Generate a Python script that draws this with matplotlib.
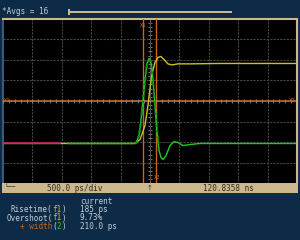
import matplotlib
matplotlib.use("Agg")
import matplotlib.pyplot as plt
import numpy as np
from matplotlib.patches import Rectangle

# time in ps relative to screen centre, amplitude in divisions
step_t = [-2500, -260, -170, -85, -35, 0, 35, 85, 135, 185, 240, 305, 375,
          475, 680, 1200, 2500]
step_v = [-2.06, -2.06, -1.87, -1.19, -0.22, 0.61, 1.33, 1.87, 2.11, 2.16,
          2.01, 1.80, 1.75, 1.80, 1.80, 1.82, 1.82]

pulse_t = [-1394, -240, -187, -153, -119, -85, -51, -17, 17, 51, 85, 119,
           153, 187, 221, 272, 340, 408, 476, 561, 680, 850, 2500]
pulse_v = [-2.06, -2.06, -1.67, -0.95, 0.02, 1.0, 1.82, 2.06, 1.87, 1.0,
           -0.22, -1.43, -2.40, -2.74, -2.84, -2.65, -2.16, -1.97, -2.01,
           -2.16, -2.11, -2.06, -2.06]

ref_t = [-2500, -1530]
ref_v = [-2.06, -2.06]

x1_cursor = -114
x2_cursor = 97
y_cursor = 0.0

timebase = "500.0 ps/div"
delay = "120.8358 ns"
avgs = "*Avgs = 16"
# each measurement name split into (text, colour key) pieces
meas_names = [
    [("Risetime(", "txt"), ("f1", "yellow"), (")", "txt")],
    [("Overshoot(", "txt"), ("f1", "yellow"), (")", "txt")],
    [("+ width", "orange"), ("(", "txt"), ("2", "green"), (")", "txt")],
]
meas_values = ["185 ps", "9.73%", "210.0 ps"]

BG = "#0d2b47"
TAN = "#cdb88e"
ORANGE = "#c8661e"
GREEN = "#22c822"
YELLOW = "#c9c227"
TXT = "#c6ced6"
COLORS = {"txt": TXT, "yellow": YELLOW, "orange": ORANGE, "green": GREEN}
W, H = 300, 240

fig = plt.figure(figsize=(3, 2.4), dpi=100, facecolor=BG)


def fx(px):
    return px / W


def fy(py):
    return 1 - py / H


# plot area, pixel box x 3..297, y 18.5..183.5
ax = fig.add_axes([fx(3), fy(183.5), fx(294), 165 / H])
ax.set_facecolor("black")
ax.set_xlim(-2500, 2500)
ax.set_ylim(-4, 4)
ax.set_xticks(np.arange(-2000, 2001, 500))
ax.set_yticks(np.arange(-3, 4, 1))
ax.tick_params(length=0, labelbottom=False, labelleft=False)
ax.grid(True, color="#454545", lw=0.8, ls=(0, (2, 1)))
for side in ["top", "right"]:
    ax.spines[side].set_color(TAN)
    ax.spines[side].set_linewidth(1.5)
ax.spines["left"].set_color("#46698a")
ax.spines["left"].set_linewidth(1.2)
ax.spines["bottom"].set_visible(False)

# centre axes with minor ticks
ax.axvline(0, color="#5a5a5a", lw=0.8, zorder=1)
mt = np.arange(-2500, 2501, 100)
my = np.arange(-4, 4.01, 0.2)
ax.plot(mt, np.zeros_like(mt), ls="none", marker="|", ms=2.5, color="#8a8a8a",
        mew=0.6, zorder=4)
ax.plot(np.zeros_like(my), my, ls="none", marker="_", ms=2.5, color="#8a8a8a",
        mew=0.6, zorder=1)

# cursors
ax.axhline(y_cursor, color=ORANGE, lw=1.2, zorder=3)
ax.axvline(x1_cursor, color=ORANGE, lw=1.0, zorder=3)
ax.axvline(x2_cursor, color=ORANGE, lw=1.0, zorder=3)
ax.text(x1_cursor, 3.8, "X1", color=ORANGE, fontsize=4, ha="center",
        va="top", family="DejaVu Sans Mono", zorder=6)
ax.text(x2_cursor + 20, -3.85, "X2", color=ORANGE, fontsize=4, ha="center",
        va="bottom", family="DejaVu Sans Mono", zorder=6)
ax.text(-2480, 0, "Y1", color=ORANGE, fontsize=4, ha="left", va="center",
        family="DejaVu Sans Mono", zorder=6)
ax.text(2480, 0, "Y2", color=ORANGE, fontsize=4, ha="right", va="center",
        family="DejaVu Sans Mono", zorder=6)

# traces
ax.plot(step_t, step_v, color=YELLOW, lw=1.0, zorder=4)
ax.plot(pulse_t, pulse_v, color=GREEN, lw=1.0, zorder=5)
ax.plot(pulse_t[1:13], pulse_v[1:13], color="#0f8f0f", lw=1.6, ls=":",
        zorder=5)
ax.plot(ref_t, ref_v, color="#c01a6c", lw=1.2, zorder=6)

# top bar
fig.text(fx(2), fy(12), avgs, color=TXT, fontsize=5.6,
         family="DejaVu Sans Mono", va="center", ha="left")
fig.add_artist(Rectangle((fx(68), fy(13.2)), fx(164), 2.4 / H,
                         facecolor=TAN, edgecolor="none"))
fig.add_artist(Rectangle((fx(67.5), fy(15)), fx(2), 6 / H,
                         facecolor=TAN, edgecolor="none"))

# bottom status bar
fig.add_artist(Rectangle((fx(2), fy(193)), fx(296), 10 / H,
                         facecolor=TAN, edgecolor="none"))
fig.add_artist(Rectangle((fx(296), fy(183.5)), fx(2), 165 / H,
                         facecolor=TAN, edgecolor="none"))
mono = dict(family="DejaVu Sans Mono", fontsize=5.5, va="center")
fig.text(fx(75), fy(188.5), timebase, color="#2e2a22", ha="center", **mono)
fig.text(fx(228), fy(188.5), delay, color="#2e2a22", ha="center", **mono)
fig.text(fx(150), fy(188.5), "\u2191", color="#2e2a22", ha="center",
         family="DejaVu Sans", fontsize=5, va="center")
fig.text(fx(4), fy(187.5), "\u2514\u2500\u2500", color="#2e2a22", ha="left",
         family="DejaVu Sans Mono", fontsize=4.5, va="center")

# measurement readout, pieces placed by monospace character width
cw = 5.5 * 100 / 72 * 0.602
fig.text(fx(80), fy(201.5), "current", color=TXT, ha="left", **mono)
rows_y = [209.5, 218, 226.5]
for pieces, val, y in zip(meas_names, meas_values, rows_y):
    n = sum(len(s) for s, _ in pieces)
    x = 66 - n * cw
    for s, key in pieces:
        fig.text(fx(x), fy(y), s, color=COLORS[key], ha="left", **mono)
        x += len(s) * cw
    fig.text(fx(80), fy(y), val, color=TXT, ha="left", **mono)

fig.savefig("out.png", dpi=100, facecolor=BG)
